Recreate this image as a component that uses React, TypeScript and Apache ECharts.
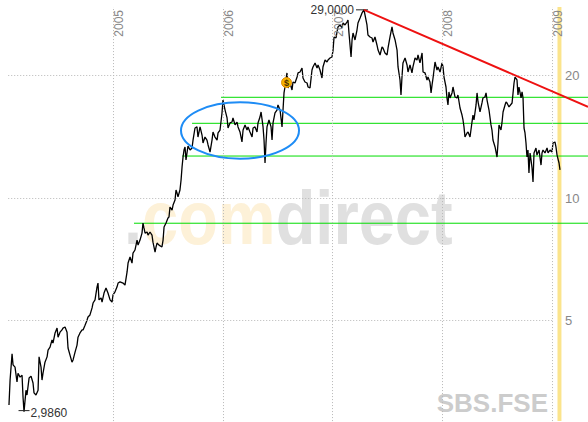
import React, { useEffect, useRef } from "react";
import * as echarts from "echarts";

// Trading dates as decimal years, and closing prices (EUR)
const priceDates = [
  2004.052, 2004.062, 2004.080, 2004.089, 2004.107, 2004.125, 2004.134, 2004.153, 2004.171, 2004.180,
  2004.189, 2004.207, 2004.216, 2004.235, 2004.253, 2004.271, 2004.280, 2004.298, 2004.317, 2004.326,
  2004.344, 2004.353, 2004.362, 2004.380, 2004.399, 2004.408, 2004.426, 2004.444, 2004.453, 2004.472,
  2004.490, 2004.499, 2004.517, 2004.535, 2004.544, 2004.563, 2004.581, 2004.590, 2004.608, 2004.626,
  2004.636, 2004.654, 2004.672, 2004.681, 2004.699, 2004.718, 2004.727, 2004.745, 2004.763, 2004.772,
  2004.790, 2004.809, 2004.818, 2004.836, 2004.854, 2004.863, 2004.872, 2004.891, 2004.900, 2004.918,
  2004.936, 2004.954, 2004.973, 2004.991, 2005.000, 2005.018, 2005.036, 2005.046, 2005.064, 2005.091,
  2005.109, 2005.128, 2005.137, 2005.155, 2005.173, 2005.182, 2005.200, 2005.219, 2005.228, 2005.246,
  2005.264, 2005.273, 2005.282, 2005.292, 2005.310, 2005.319, 2005.337, 2005.355, 2005.364, 2005.383,
  2005.392, 2005.401, 2005.419, 2005.446, 2005.456, 2005.465, 2005.483, 2005.501, 2005.510, 2005.519,
  2005.538, 2005.547, 2005.565, 2005.574, 2005.583, 2005.592, 2005.610, 2005.620, 2005.629, 2005.638,
  2005.647, 2005.656, 2005.665, 2005.674, 2005.683, 2005.702, 2005.720, 2005.729, 2005.747, 2005.765,
  2005.774, 2005.793, 2005.811, 2005.820, 2005.838, 2005.856, 2005.866, 2005.884, 2005.902, 2005.911,
  2005.929, 2005.948, 2005.957, 2005.975, 2005.993, 2006.002, 2006.021, 2006.039, 2006.048, 2006.066,
  2006.084, 2006.093, 2006.112, 2006.130, 2006.139, 2006.157, 2006.175, 2006.185, 2006.203, 2006.221,
  2006.230, 2006.248, 2006.267, 2006.276, 2006.294, 2006.312, 2006.321, 2006.339, 2006.349, 2006.367,
  2006.376, 2006.385, 2006.394, 2006.403, 2006.421, 2006.440, 2006.449, 2006.458, 2006.476, 2006.494,
  2006.503, 2006.522, 2006.540, 2006.549, 2006.558, 2006.567, 2006.585, 2006.595, 2006.613, 2006.631,
  2006.640, 2006.658, 2006.677, 2006.686, 2006.704, 2006.722, 2006.731, 2006.749, 2006.768, 2006.777,
  2006.795, 2006.813, 2006.822, 2006.841, 2006.859, 2006.868, 2006.886, 2006.904, 2006.913, 2006.932,
  2006.950, 2006.959, 2006.977, 2006.995, 2007.005, 2007.014, 2007.032, 2007.041, 2007.050, 2007.068,
  2007.087, 2007.096, 2007.114, 2007.132, 2007.141, 2007.150, 2007.169, 2007.178, 2007.187, 2007.205,
  2007.223, 2007.232, 2007.251, 2007.269, 2007.287, 2007.296, 2007.305, 2007.314, 2007.323, 2007.342,
  2007.360, 2007.369, 2007.387, 2007.405, 2007.415, 2007.433, 2007.451, 2007.460, 2007.478, 2007.497,
  2007.506, 2007.524, 2007.542, 2007.551, 2007.570, 2007.588, 2007.597, 2007.615, 2007.624, 2007.633,
  2007.642, 2007.661, 2007.679, 2007.688, 2007.706, 2007.724, 2007.733, 2007.752, 2007.770, 2007.779,
  2007.797, 2007.816, 2007.825, 2007.843, 2007.861, 2007.870, 2007.888, 2007.898, 2007.907, 2007.916,
  2007.934, 2007.952, 2007.961, 2007.980, 2007.998, 2008.007, 2008.016, 2008.034, 2008.043, 2008.052,
  2008.061, 2008.071, 2008.089, 2008.098, 2008.116, 2008.134, 2008.143, 2008.162, 2008.180, 2008.189,
  2008.198, 2008.207, 2008.226, 2008.235, 2008.253, 2008.271, 2008.280, 2008.289, 2008.308, 2008.317,
  2008.326, 2008.344, 2008.362, 2008.371, 2008.389, 2008.399, 2008.408, 2008.426, 2008.444, 2008.453,
  2008.462, 2008.481, 2008.499, 2008.508, 2008.517, 2008.535, 2008.544, 2008.554, 2008.572, 2008.581,
  2008.590, 2008.608, 2008.636, 2008.645, 2008.654, 2008.663, 2008.681, 2008.690, 2008.699, 2008.718,
  2008.727, 2008.736, 2008.745, 2008.754, 2008.763, 2008.772, 2008.781, 2008.790, 2008.800, 2008.809,
  2008.818, 2008.827, 2008.836, 2008.854, 2008.863, 2008.882, 2008.900, 2008.909, 2008.918, 2008.936,
  2008.955, 2008.964, 2008.982, 2009.000, 2009.009, 2009.027, 2009.036, 2009.046, 2009.064, 2009.073,
];

const priceValues = [
  3.10, 3.57, 4.14, 3.89, 3.84, 3.53, 3.71, 3.63, 3.67, 3.24,
  2.986, 3.37, 3.28, 3.61, 3.65, 3.51, 3.32, 3.28, 3.37, 4.07,
  3.84, 3.57, 3.71, 3.95, 4.07, 4.23, 4.30, 4.48, 4.40, 4.66,
  4.79, 4.55, 4.68, 4.74, 4.79, 4.82, 4.68, 4.28, 4.11, 3.95,
  4.00, 4.18, 4.35, 4.55, 4.66, 4.74, 4.74, 4.87, 5.01, 5.10,
  5.16, 5.37, 5.52, 5.62, 6.04, 6.18, 5.62, 5.68, 5.55, 5.84,
  6.01, 5.84, 5.62, 5.55, 5.78, 5.88, 6.04, 6.18, 6.22, 6.18,
  6.11, 6.58, 6.92, 7.16, 6.92, 7.32, 7.45, 7.88, 7.66, 7.88,
  8.20, 8.68, 8.44, 8.20, 8.25, 8.11, 8.25, 8.11, 7.79, 7.36,
  7.58, 7.75, 7.66, 7.58, 7.88, 8.49, 8.68, 8.93, 8.98, 9.50,
  9.34, 9.61, 9.89, 10.46, 10.29, 10.06, 10.46, 11.07, 11.92, 12.61,
  13.12, 13.35, 12.40, 12.90, 13.42, 13.12, 13.27, 13.88, 14.86, 14.95,
  14.12, 14.95, 14.28, 13.65, 14.12, 13.88, 13.50, 12.97, 13.88, 14.53,
  14.12, 13.88, 14.45, 14.69, 16.18, 17.41, 16.45, 15.73, 14.86, 15.29,
  15.37, 15.73, 15.12, 15.37, 14.95, 14.53, 13.73, 14.69, 15.12, 14.69,
  14.95, 14.53, 14.12, 14.86, 14.95, 14.53, 15.29, 15.81, 16.27, 14.95,
  13.88, 12.19, 13.65, 14.95, 15.55, 14.95, 13.88, 15.29, 16.18, 16.45,
  16.93, 16.45, 14.95, 16.45, 18.12, 18.74, 20.29, 18.64, 19.17, 18.43,
  19.28, 19.17, 19.83, 20.29, 20.40, 20.87, 19.72, 19.28, 19.17, 18.74,
  18.64, 20.63, 20.99, 21.47, 20.87, 21.23, 20.63, 19.72, 20.99, 21.83,
  21.59, 21.83, 22.08, 22.21, 23.10, 24.87, 24.73, 25.58, 26.32, 26.62,
  26.17, 26.92, 26.62, 27.07, 27.38, 25.44, 22.21, 24.45, 25.44, 24.45,
  25.87, 26.92, 27.69, 28.49, 29.00, 28.17, 27.38, 26.62, 25.15, 24.87,
  24.73, 24.17, 24.87, 23.77, 23.10, 22.46, 23.50, 23.37, 22.72, 22.46,
  23.37, 24.87, 26.32, 25.44, 24.45, 23.10, 20.99, 19.50, 17.91, 19.83,
  21.47, 22.08, 21.23, 20.40, 21.23, 20.29, 20.99, 22.08, 21.83, 22.46,
  21.47, 22.72, 20.40, 20.29, 19.50, 19.83, 19.28, 18.12, 18.96, 19.72,
  21.59, 20.63, 20.99, 20.40, 21.47, 20.99, 19.83, 18.74, 17.61, 16.93,
  18.22, 17.61, 18.12, 18.74, 17.71, 17.61, 17.91, 16.64, 15.99, 15.55,
  14.95, 14.12, 14.45, 14.53, 14.12, 15.37, 15.99, 15.55, 16.93, 18.12,
  17.22, 16.27, 17.12, 17.61, 17.71, 18.12, 17.41, 16.45, 15.12, 14.69,
  13.88, 13.35, 12.61, 13.65, 15.12, 14.69, 15.29, 16.27, 16.93, 17.22,
  17.12, 16.74, 17.12, 18.12, 19.17, 19.83, 19.50, 17.91, 18.74, 17.61,
  18.22, 17.61, 14.86, 14.45, 13.65, 12.61, 13.12, 11.52, 12.90, 12.40,
  11.85, 10.95, 12.90, 13.27, 12.75, 13.12, 12.05, 12.90, 13.12, 12.90,
  13.27, 12.90, 13.12, 12.97, 13.65, 13.73, 13.35, 12.75, 12.19, 11.72,
];

// Axis tick values
const yearTicks = [2005, 2006, 2007, 2008, 2009];
const priceTicks = [5, 10, 20];

// Drawn analysis: horizontal support/resistance levels and where they start
const supportLevels = [17.68, 15.26, 12.68, 8.67];
const supportStartDates = [2005.984, 2005.72, 2005.629, 2005.191];

// Falling trend line from the top
const trendStart = [2007.287, 29.0];
const trendEnd = [2009.328, 16.74];

// Dividend marker
const dividendDate = 2006.581;
const dividendPrice = 19.22;

// Current-date band
const todayBand = [2009.05, 2009.086];

// Axis extents
const X_MIN = 2004.043;
const X_MAX = 2009.328;
const X_GRID_END = 2009.009;
const Y_MIN = 2.8155;
const Y_MAX = 30.659;
const Y_GRID_TOP = 29.47;
const Y_GRID_BOTTOM = 2.83;

const FONT = "'Liberation Sans', Arial, Helvetica, sans-serif";
const fmtDe = (v: number) => v.toFixed(4).replace(".", ",");

export default function App() {
  const ref = useRef<HTMLDivElement>(null);

  useEffect(() => {
    const chart = echarts.init(ref.current as HTMLDivElement, null, { renderer: "svg" });
    const priceData = priceDates.map((d, i) => [d, priceValues[i]]);

    const option: any = {
      animation: false,
      backgroundColor: "#ffffff",
      textStyle: { fontFamily: FONT },
      grid: { left: 8, right: 0, top: 0, bottom: 0, containLabel: false },
      xAxis: { type: "value", min: X_MIN, max: X_MAX, show: false },
      yAxis: { type: "log", logBase: 10, min: Y_MIN, max: Y_MAX, show: false },
      graphic: [
        {
          type: "text",
          z: -10,
          x: 124,
          y: 218,
          scaleX: 0.855,
          silent: true,
          style: {
            text: "{g|.}{y|com}{g|direct}",
            font: `bold 76px ${FONT}`,
            verticalAlign: "middle",
            rich: {
              g: { fill: "#e0e0e0", font: `bold 76px ${FONT}` },
              y: { fill: "#fdf1d8", font: `bold 76px ${FONT}` },
            },
          },
        },
        {
          type: "text",
          z: -10,
          x: 548,
          y: 403,
          silent: true,
          style: {
            text: "SBS.FSE",
            font: `bold 26px ${FONT}`,
            fill: "#cccccc",
            align: "right",
            verticalAlign: "middle",
          },
        },
        {
          type: "ellipse",
          z: 100,
          silent: true,
          shape: { cx: 240, cy: 130.5, rx: 59, ry: 28.2 },
          style: { fill: "none", stroke: "#1e8cf5", lineWidth: 2 },
        },
      ],
      series: [
        {
          name: "hgrid",
          type: "line",
          data: [],
          z: 1,
          silent: true,
          markLine: {
            silent: true,
            symbol: ["none", "none"],
            lineStyle: { color: "#b8b8b8", type: [1, 2], width: 1 },
            label: {
              show: true,
              position: "end",
              distance: 12,
              color: "#888888",
              fontSize: 13,
              fontFamily: FONT,
              formatter: "{b}",
            },
            data: priceTicks.map((p) => [
              { coord: [X_MIN + 0.002, p], name: String(p) },
              { coord: [X_GRID_END, p] },
            ]),
          },
        },
        {
          name: "vgrid",
          type: "line",
          data: [],
          z: 1,
          silent: true,
          markLine: {
            silent: true,
            symbol: ["none", "none"],
            lineStyle: { color: "#b8b8b8", type: [1, 2], width: 1 },
            label: {
              show: true,
              position: "insideEndBottom",
              distance: [3, 0],
              color: "#888888",
              fontSize: 12,
              fontFamily: FONT,
              formatter: "{b}",
            },
            data: yearTicks.map((y) => [
              { coord: [y, Y_GRID_BOTTOM], name: String(y) },
              { coord: [y, Y_GRID_TOP] },
            ]),
          },
          markArea: {
            silent: true,
            itemStyle: { color: "#fbe48c" },
            data: [
              [
                { coord: [todayBand[0], Y_GRID_TOP] },
                { coord: [todayBand[1], Y_GRID_BOTTOM] },
              ],
            ],
          },
        },
        ...supportLevels.map((lvl, i) => ({
          name: "support" + i,
          type: "line",
          z: 3,
          silent: true,
          symbol: "none",
          lineStyle: { color: "#00dd00", width: 1 },
          data: [
            [supportStartDates[i], lvl],
            [X_MAX, lvl],
          ],
        })),
        {
          name: "trend",
          type: "line",
          z: 5,
          silent: true,
          symbol: "none",
          lineStyle: { color: "#ee1111", width: 2 },
          data: [trendStart, trendEnd],
        },
        {
          name: "SBS.FSE",
          type: "line",
          z: 4,
          silent: true,
          symbol: "none",
          lineStyle: { color: "#000000", width: 1.3 },
          data: priceData,
          markPoint: {
            silent: true,
            data: [
              {
                type: "max",
                valueIndex: 1,
                symbol: "rect",
                symbolSize: [12, 1],
                symbolOffset: [-2, 0],
                itemStyle: { color: "#222222" },
                label: {
                  show: true,
                  position: "left",
                  distance: 2,
                  color: "#333333",
                  fontSize: 12,
                  fontFamily: FONT,
                  formatter: (p: any) => fmtDe(Number(p.value)),
                },
              },
              {
                type: "min",
                valueIndex: 1,
                symbol: "rect",
                symbolSize: [11, 1],
                symbolOffset: [0, -1],
                itemStyle: { color: "#222222" },
                label: {
                  show: true,
                  position: "right",
                  distance: 1,
                  offset: [0, 2],
                  color: "#333333",
                  fontSize: 12,
                  fontFamily: FONT,
                  formatter: (p: any) => fmtDe(Number(p.value)),
                },
              },
              {
                coord: [dividendDate, dividendPrice],
                value: dividendPrice,
                symbol: "circle",
                symbolSize: 10,
                itemStyle: { color: "#f7b500", borderColor: "#e08a00", borderWidth: 1 },
                label: {
                  show: true,
                  position: "inside",
                  formatter: "$",
                  fontSize: 9,
                  fontWeight: "bold",
                  color: "#4a3000",
                  fontFamily: FONT,
                },
              },
            ],
          },
        },
      ],
    };

    chart.setOption(option);
    return () => chart.dispose();
  }, []);

  return (
    <div
      ref={ref}
      style={{ position: "absolute", left: 0, top: 0, width: 588, height: 422 }}
    />
  );
}
